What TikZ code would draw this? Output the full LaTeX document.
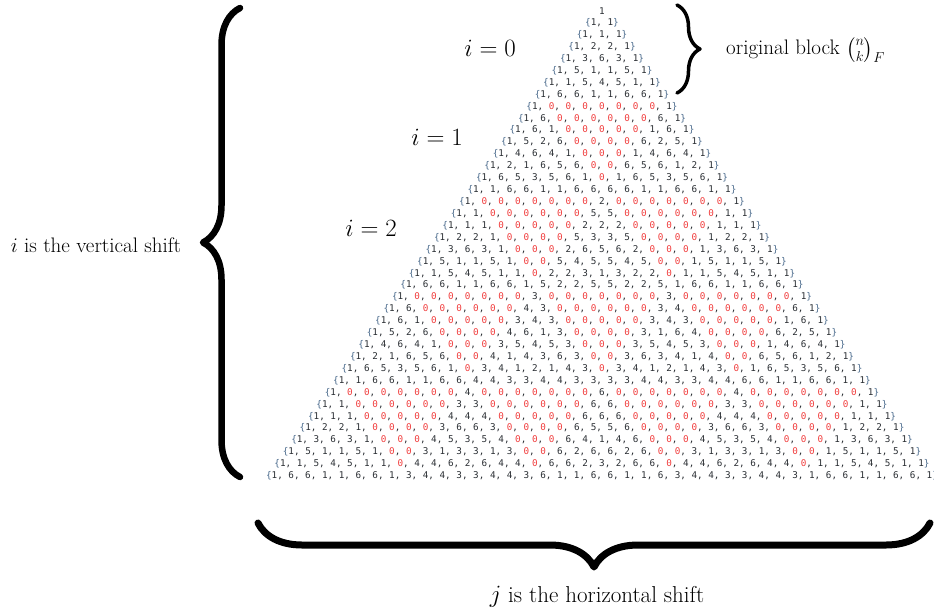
\documentclass[tikz,border=0pt]{standalone}
\usepackage{fontspec}
\usepackage{amsmath}
\usetikzlibrary{decorations.pathreplacing}
\newfontfamily\trifont{DejaVu Sans Mono}
\definecolor{digitc}{HTML}{2A2E33}
\definecolor{bracec}{HTML}{4A6A8C}
\definecolor{zeroc}{HTML}{F03C3C}
\newcommand\zeroR{\textcolor{zeroc}{0}}
\newcommand\bracecol[1]{\textcolor{bracec}{#1}}
\newcount\cA \newcount\cB
% Fibonacci numbers mod 7
\expandafter\gdef\csname fib0\endcsname{0}
\expandafter\gdef\csname fib1\endcsname{1}
\foreach \i in {2,...,48}{%
  \cA=\csname fib\the\numexpr\i-1\relax\endcsname\relax
  \advance\cA by \csname fib\the\numexpr\i-2\relax\endcsname\relax
  \cB=\cA \divide\cB by 7 \multiply\cB by 7 \advance\cA by -\cB
  \expandafter\xdef\csname fib\i\endcsname{\the\cA}%
}
% Fibonomial coefficients mod 7
\foreach \n in {0,...,39}{%
  \foreach \k in {0,...,\n}{%
    \ifnum\k=0\relax
      \expandafter\xdef\csname bin\n:\k\endcsname{1}%
    \else\ifnum\k=\n\relax
      \expandafter\xdef\csname bin\n:\k\endcsname{1}%
    \else
      \cA=\csname fib\the\numexpr\k-1\relax\endcsname\relax
      \multiply\cA by \csname bin\the\numexpr\n-1\relax:\k\endcsname\relax
      \cB=\csname fib\the\numexpr\n-\k+1\relax\endcsname\relax
      \multiply\cB by \csname bin\the\numexpr\n-1\relax:\the\numexpr\k-1\relax\endcsname\relax
      \advance\cA by \cB
      \cB=\cA \divide\cB by 7 \multiply\cB by 7 \advance\cA by -\cB
      \expandafter\xdef\csname bin\n:\k\endcsname{\the\cA}%
    \fi\fi
  }%
}
% Row texts
\foreach \n in {1,...,39}{%
  \xdef\rowtmp{\noexpand\bracecol{\noexpand\{}}%
  \foreach \k in {0,...,\n}{%
    \edef\val{\csname bin\n:\k\endcsname}%
    \ifnum\val=0\relax
      \xdef\rowtmp{\unexpanded\expandafter{\rowtmp}\noexpand\zeroR}%
    \else
      \xdef\rowtmp{\unexpanded\expandafter{\rowtmp}\val}%
    \fi
    \ifnum\k<\n\relax
      \xdef\rowtmp{\unexpanded\expandafter{\rowtmp}, }%
    \fi
  }%
  \expandafter\xdef\csname row\n\endcsname{\unexpanded\expandafter{\rowtmp}\noexpand\bracecol{\noexpand\}}}%
}
\begin{document}
\begin{tikzpicture}[x=1pt,y=-1pt,
  rowtxt/.style={inner sep=0pt, font=\trifont\fontsize{9.3}{10}\selectfont, text=digitc},
  lbl/.style={inner sep=0pt, font=\fontsize{21}{25}\selectfont},
  ilbl/.style={inner sep=0pt, font=\fontsize{25}{30}\selectfont},
  bracebase/.style={decorate, line cap=round, line join=round},
]
\useasboundingbox (0,0) rectangle (934,611);
\node[rowtxt] (r0) at (602,11) {1};
\foreach \n in {1,...,39}{%
  \node[rowtxt] (r\n) at (602,{11+\n*11.92}) {\csname row\n\endcsname};
}
% block labels
\node[ilbl] (i0) at (490,48) {$i=0$};
\node[ilbl] (i1) at (437,137) {$i=1$};
\node[ilbl] (i2) at (371,228) {$i=2$};
% braces
\coordinate (lbT) at (240,8);
\coordinate (lbB) at (240,477);
\draw[bracebase, line width=6.5pt, decoration={brace, amplitude=37pt}] (lbB) -- (lbT);
\coordinate (bbL) at (258,523);
\coordinate (bbR) at (930,523);
\draw[bracebase, line width=7pt, decoration={brace, amplitude=44pt}] (bbR) -- (bbL);
\coordinate (rbT) at (677,5);
\coordinate (rbB) at (677,93);
\draw[bracebase, line width=3.5pt, decoration={brace, amplitude=23pt}] (rbT) -- (rbB);
% labels
\node[lbl] (vlab) at (96,245) {$i$ is the vertical shift};
\node[lbl, font=\fontsize{23}{27}\selectfont] (hlab) at (597,597) {$j$ is the horizontal shift};
\node[lbl, anchor=west] (olab) at (726,50) {original block $\binom{n}{k}_F$};
\end{tikzpicture}
\end{document}
